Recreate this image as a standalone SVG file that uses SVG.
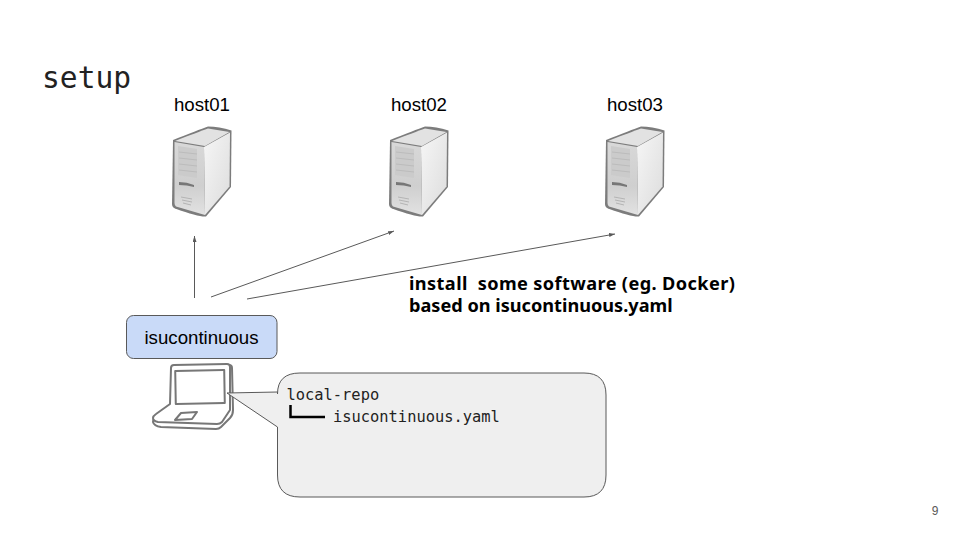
<svg xmlns="http://www.w3.org/2000/svg" width="960" height="540" viewBox="0 0 960 540">
<style>
.lbl{font-family:"Liberation Sans",Arial,sans-serif;font-size:18.670px;fill:#000}
.mono{font-family:"DejaVu Sans Mono",monospace;fill:#222}
.bold{font-family:"Noto Sans",sans-serif;font-weight:700;font-size:18.150px;fill:#000;white-space:pre}
.conn{stroke:#595959;stroke-width:1;fill:none;marker-end:url(#arr)}
.lap{fill:#fff;stroke:#777;stroke-width:2;stroke-linejoin:round}
</style>
<defs>
<marker id="arr" viewBox="0 0 6 4" refX="6" refY="2" markerWidth="6" markerHeight="4" markerUnits="userSpaceOnUse" orient="auto"><path d="M0 0L6 2L0 4Z" fill="#595959"/></marker>
<linearGradient id="front" x1="0" y1="0" x2="0" y2="1"><stop offset="0" stop-color="#d8d8d8"/><stop offset=".6" stop-color="#cfcfcf"/><stop offset="1" stop-color="#e2e2e2"/></linearGradient>
<linearGradient id="side" x1="0" y1="0" x2="1" y2="1"><stop offset="0" stop-color="#f6f6f6"/><stop offset="1" stop-color="#dcdcdc"/></linearGradient>
<g id="server">
<path d="M173 140Q198 130 208 126.500Q219 126.500 231.500 130.500L231 187L206 216.500Q200 217.500 175 208.500Q172 207 172 204Z" fill="#7c7c7c"/>
<path d="M175 141Q198 132 208 128.500L229.500 132L205 146Z" fill="#e2e2e2"/>
<path d="M204 147L230 132.500L229.500 186.500L205 215Z" fill="url(#side)"/>
<path d="M174.500 142L204 147L205 215L176 206.500Q174.500 205 174.500 203Z" fill="url(#front)"/>
<path d="M178 146L197 149L197 178L178 175Z" fill="#cbcbcb"/>
<path d="M179 152L197 154M179 158L197 160M179 164L197 166M179 170L197 172" stroke="#bcbcbc" stroke-width="1"/>
<path d="M179 182Q187 182 194 185L194 187Q187 185 179 185Z" fill="#777"/>
<path d="M181 197L192 199M182 200L192 202M183 203L191 205" stroke="#b4b4b4" stroke-width="1"/>
</g>
</defs>
<rect width="960" height="540" fill="#fff"/>
<text x="42" y="87.500" class="mono" font-size="29.600">setup</text>
<g id="host01"><use href="#server"/><text x="202" y="111" class="lbl" text-anchor="middle">host01</text></g>
<g id="host02"><use href="#server" x="217"/><text x="419" y="111" class="lbl" text-anchor="middle">host02</text></g>
<g id="host03"><use href="#server" x="433"/><text x="635" y="111" class="lbl" text-anchor="middle">host03</text></g>
<g id="connectors">
<path class="conn" d="M194.500 298V236"/>
<path class="conn" d="M211 297L394 231"/>
<path class="conn" d="M247 299L615 234"/>
</g>
<g id="note"><text x="409" y="290" class="bold" letter-spacing=".42" word-spacing="-.2">install  some software (eg. Docker)</text><text x="409" y="312" class="bold">based on isucontinuous.yaml</text></g>
<g id="isucontinuous"><rect x="126.500" y="315.500" width="150.500" height="43" rx="7" fill="#c9daf8" stroke="#595959"/><text x="201.500" y="344" class="lbl" text-anchor="middle">isucontinuous</text></g>
<g id="laptop">
<path class="lap" d="M173 369Q173 366 176 366L229 365Q232 365 232 368L233 410Q233 415 230 418L221 427Q219 429 216 429L161 427Q154 426 153 422Q153 419 156 417L172 406Z"/>
<path class="lap" d="M171 368Q171 365 174 365L227 364Q230 364 230 367L230 410L222 422Q220 424 217 424L158 422Q153 421 153 418Q153 416 156 414L170 404Z"/>
<rect class="lap" x="175.500" y="370.500" width="49" height="33" transform="rotate(-1 200 387)"/>
<path class="lap" d="M181 413L197 412L192 419L175 420Z" stroke-width="1.400"/>
</g>
<g id="callout">
<path d="M277.500 394Q277.500 373 300 373H584Q606 373 606 395V475Q606 497 584 497H300Q277.500 497 277.500 475V427L227 393L277.500 392Z" fill="#efefef" stroke="#595959"/>
<text x="286.500" y="400" class="mono" font-size="15.400">local-repo</text>
<path d="M290.500 405V417H325" fill="none" stroke="#000" stroke-width="2.500"/>
<text x="333" y="422" class="mono" font-size="15.400">isucontinuous.yaml</text>
</g>
<text id="page" x="935" y="515" font-family="Liberation Sans,Arial,sans-serif" font-size="12" fill="#595959" text-anchor="middle">9</text>
</svg>
